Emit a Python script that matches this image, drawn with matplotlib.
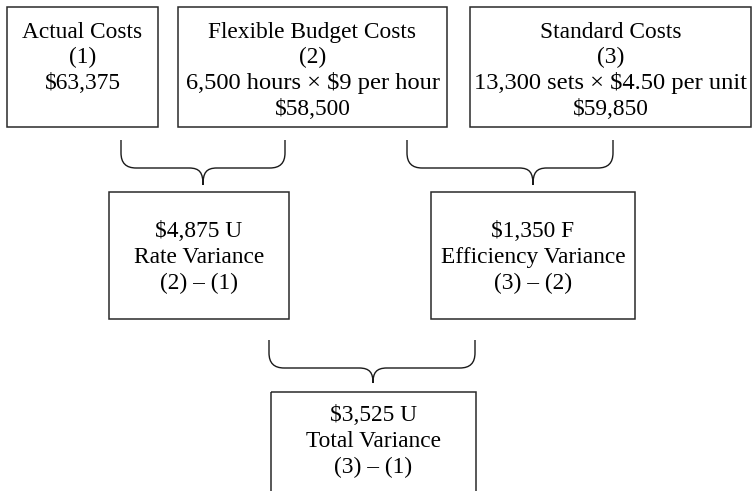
import matplotlib.pyplot as plt
from matplotlib.patches import Rectangle, PathPatch
from matplotlib.path import Path

# Text content of the diagram
top_titles = ["Actual Costs", "Flexible Budget Costs", "Standard Costs"]
top_labels = ["(1)", "(2)", "(3)"]
top_calcs = [None, "6,500 hours \u00d7 $9 per hour", "13,300 sets \u00d7 $4.50 per unit"]
top_amounts = ["$63,375", "$58,500", "$59,850"]

variance_amounts = ["$4,875 U", "$1,350 F", "$3,525 U"]
variance_names = ["Rate Variance", "Efficiency Variance", "Total Variance"]
variance_formulas = ["(2) \u2013 (1)", "(3) \u2013 (2)", "(3) \u2013 (1)"]

plt.rcParams['font.family'] = ['Liberation Serif', 'DejaVu Serif']
FS = 16.8
LINE = 25.8

fig = plt.figure(figsize=(7.54, 4.91), dpi=100)
ax = fig.add_axes([0, 0, 1, 1])
ax.set_xlim(0, 754)
ax.set_ylim(491, 0)
ax.axis("off")


def box(x0, x1, y0, y1):
    ax.add_patch(Rectangle((x0, y0), x1 - x0, y1 - y0, fill=False,
                           edgecolor="#2a2a2a", lw=1.1))


def lines(xc, y_first, texts, sizes=None):
    for i, t in enumerate(texts):
        fs = sizes[i] if sizes else FS
        ax.text(xc, y_first + i * LINE, t, ha="center", va="baseline",
                fontsize=fs, color="black")


def brace(x0, x1, xt, ytop, yh, ytip, r=15, w=14):
    verts = [(x0, ytop), (x0, yh - r), (x0, yh), (x0 + r, yh),
             (xt - w, yh), (xt - 3, yh), (xt, yh + 5), (xt, ytip),
             (xt, yh + 5), (xt + 3, yh), (xt + w, yh),
             (x1 - r, yh), (x1, yh), (x1, yh - r), (x1, ytop)]
    codes = [Path.MOVETO, Path.LINETO, Path.CURVE3, Path.CURVE3,
             Path.LINETO, Path.CURVE4, Path.CURVE4, Path.CURVE4,
             Path.CURVE4, Path.CURVE4, Path.CURVE4,
             Path.LINETO, Path.CURVE3, Path.CURVE3, Path.LINETO]
    ax.add_patch(PathPatch(Path(verts, codes), fill=False,
                           edgecolor="#1a1a1a", lw=1.0))


# top row of boxes
top_x = [(7, 158), (178, 447), (470, 751)]
for i, (x0, x1) in enumerate(top_x):
    box(x0, x1, 7, 127)
    txt = [top_titles[i], top_labels[i]]
    sizes = [FS, FS]
    if top_calcs[i]:
        txt.append(top_calcs[i])
        sizes.append(FS * 1.05)
    txt.append(top_amounts[i])
    sizes.append(FS)
    lines((x0 + x1) / 2, 37.5, txt, sizes)

# braces
brace(121, 285, 203, 140, 168, 185)
brace(407, 613, 533, 140, 168, 185)
brace(269, 475, 373, 340, 368, 383)

# variance boxes
var_boxes = [(109, 289, 192, 319), (431, 635, 192, 319), (271, 476, 392, 520)]
var_first = [237, 237, 421]
for i, (x0, x1, y0, y1) in enumerate(var_boxes):
    box(x0, x1, y0, y1)
    lines((x0 + x1) / 2, var_first[i],
          [variance_amounts[i], variance_names[i], variance_formulas[i]])

fig.savefig("out.png", dpi=100)
